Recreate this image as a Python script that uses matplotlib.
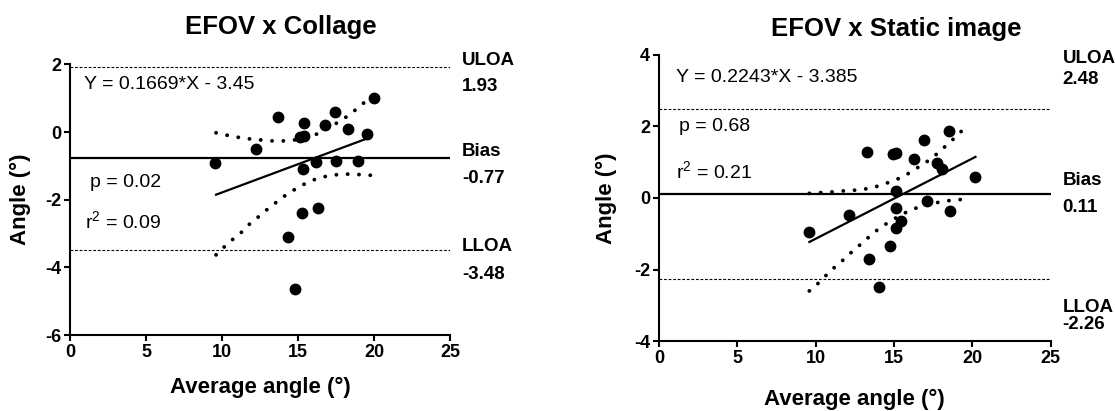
import matplotlib.pyplot as plt
from matplotlib import transforms

plt.rcParams['font.family'] = ['Liberation Sans', 'DejaVu Sans']
plt.rcParams['font.weight'] = 'bold'

# EFOV x Collage
collage_avg = [9.5, 12.2, 13.7, 14.35, 14.8, 15.1, 15.35, 15.4, 15.3, 15.25,
               16.3, 16.2, 16.75, 17.45, 17.5, 18.3, 18.9, 19.5, 20.0]
collage_diff = [-0.9, -0.5, 0.46, -3.09, -4.63, -0.13, -0.12, 0.27, -1.1, -2.38,
                -2.23, -0.89, 0.21, 0.6, -0.86, 0.08, -0.84, -0.07, 1.0]
collage_fit_x = [9.6, 19.7]
collage_fit_y = [-1.85, -0.16]
collage_up_x = [9.6, 10.3, 11.0, 11.8, 12.5, 13.3, 14.0, 14.8, 16.2, 17.5, 18.2, 18.8, 19.3, 19.9]
collage_up_y = [-0.02, -0.09, -0.15, -0.2, -0.23, -0.26, -0.26, -0.23, -0.06, 0.26, 0.46, 0.67, 0.86, 1.01]
collage_lo_x = [9.6, 10.1, 10.7, 11.3, 11.8, 12.4, 13.0, 13.6, 14.25, 14.9, 15.55, 16.25, 17.0, 17.7, 18.45, 19.9]
collage_lo_y = [-3.63, -3.41, -3.17, -2.95, -2.72, -2.5, -2.27, -2.06, -1.84, -1.66, -1.5, -1.37, -1.29, -1.25, -1.24, -1.28]
collage_bias, collage_uloa, collage_lloa = -0.77, 1.93, -3.48
collage_yticks = [-6, -4, -2, 0, 2]

# EFOV x Static image
static_avg = [9.55, 12.15, 13.3, 13.4, 14.05, 14.75, 14.95, 15.15, 15.1, 15.1,
              15.15, 15.45, 16.25, 16.9, 17.1, 17.75, 18.05, 18.55, 18.5, 20.2]
static_diff = [-0.95, -0.47, 1.28, -1.72, -2.49, -1.34, 1.24, 1.27, 0.19, -0.28,
               -0.83, -0.63, 1.08, 1.62, -0.07, 0.99, 0.8, -0.36, 1.88, 0.58]
static_fit_x = [9.6, 20.2]
static_fit_y = [-1.23, 1.15]
static_up_x = [9.6, 10.3, 11.05, 11.8, 12.55, 13.3, 14.05, 14.75, 15.45, 16.1, 16.75, 17.4, 17.95, 18.55, 19.15, 19.7]
static_up_y = [0.13, 0.15, 0.17, 0.2, 0.22, 0.26, 0.34, 0.45, 0.57, 0.73, 0.92, 1.1, 1.32, 1.55, 1.8, 2.04]
static_lo_x = [9.6, 10.15, 10.7, 11.25, 11.85, 12.4, 13.0, 13.55, 14.15, 14.8, 15.45, 16.15, 16.9, 17.6, 18.35, 19.1, 19.8]
static_lo_y = [-2.6, -2.39, -2.15, -1.92, -1.7, -1.47, -1.25, -1.03, -0.82, -0.64, -0.47, -0.32, -0.21, -0.14, -0.08, -0.05, -0.02]
static_bias, static_uloa, static_lloa = 0.11, 2.48, -2.26
static_yticks = [-4, -2, 0, 2, 4]

x_ticks = [0, 5, 10, 15, 20, 25]


def draw_panel(ax, title, avg, diff, fit_x, fit_y, up_x, up_y, lo_x, lo_y,
               bias, uloa, lloa, ylim, yticks, eq, p_txt, r_txt, txt_pos, side_y,
               title_pos, label_pos):
    ax.plot(avg, diff, 'o', color='black', markersize=7.5, zorder=5)
    ax.plot(fit_x, fit_y, color='black', lw=1.6)
    for bx, by in ((up_x, up_y), (lo_x, lo_y)):
        ax.plot(bx, by, color='black', lw=2.8, linestyle=(0, (0.01, 2.9)),
                dash_capstyle='round')
    ax.axhline(bias, color='black', lw=1.6)
    ax.axhline(uloa, color='black', lw=0.8, linestyle=(0, (2.5, 1.6)))
    ax.axhline(lloa, color='black', lw=0.8, linestyle=(0, (2.5, 1.6)))

    ax.tick_params(width=1.5, length=4.5, pad=2, labelsize=13)
    ax.set_xlim(0, 25)
    ax.set_ylim(*ylim)
    ax.set_xticks(x_ticks, labels=[str(t) for t in x_ticks])
    ax.set_yticks(yticks, labels=[str(t) for t in yticks])
    ax.spines['top'].set_visible(False)
    ax.spines['right'].set_visible(False)
    for s in ('left', 'bottom'):
        ax.spines[s].set_linewidth(1.5)

    ax.set_xlabel('Average angle (°)', fontsize=16, fontweight='bold')
    ax.set_ylabel('Angle (°)', fontsize=16, fontweight='bold')
    ax.xaxis.set_label_coords(0.5, label_pos[1])
    ax.yaxis.set_label_coords(label_pos[0], 0.5)
    ax.text(title_pos[0], title_pos[1], title, transform=ax.transAxes, ha='center',
            va='center', fontsize=18.5, fontweight='bold')

    for (tx, ty), s_txt in zip(txt_pos, (eq, p_txt, r_txt)):
        ax.text(tx, ty, s_txt, fontsize=14, fontweight='normal', va='center')

    trans = transforms.blended_transform_factory(ax.transAxes, ax.transData)
    side = ['ULOA', f'{uloa:.2f}', 'Bias', f'{bias:.2f}', 'LLOA', f'{lloa:.2f}']
    for s_txt, sy in zip(side, side_y):
        ax.text(1.03, sy, s_txt, transform=trans, fontsize=13.5, fontweight='bold',
                va='center', ha='left', clip_on=False)


fig = plt.figure(figsize=(11.15, 4.11), dpi=100)
ax1 = fig.add_axes([0.0628, 0.1849, 0.3411, 0.6582])
ax2 = fig.add_axes([0.5910, 0.1703, 0.3513, 0.6959])

draw_panel(ax1, 'EFOV x Collage', collage_avg, collage_diff, collage_fit_x, collage_fit_y,
           collage_up_x, collage_up_y, collage_lo_x, collage_lo_y,
           collage_bias, collage_uloa, collage_lloa, (-6, 2), collage_yticks,
           'Y = 0.1669*X - 3.45', 'p = 0.02', r'r$^\mathregular{2}$ = 0.09',
           [(0.9, 1.41), (1.3, -1.49), (1.0, -2.64)],
           [2.13, 1.36, -0.58, -1.37, -3.39, -4.2], (0.554, 1.14), (-0.103, -0.155))

draw_panel(ax2, 'EFOV x Static image', static_avg, static_diff, static_fit_x, static_fit_y,
           static_up_x, static_up_y, static_lo_x, static_lo_y,
           static_bias, static_uloa, static_lloa, (-4, 4), static_yticks,
           'Y = 0.2243*X - 3.385', 'p = 0.68', r'r$^\mathregular{2}$ = 0.21',
           [(1.09, 3.36), (1.28, 2.0), (1.09, 0.74)],
           [3.9, 3.31, 0.48, -0.26, -3.05, -3.54], (0.607, 1.09), (-0.107, -0.168))

fig.savefig('out.png', dpi=100)
